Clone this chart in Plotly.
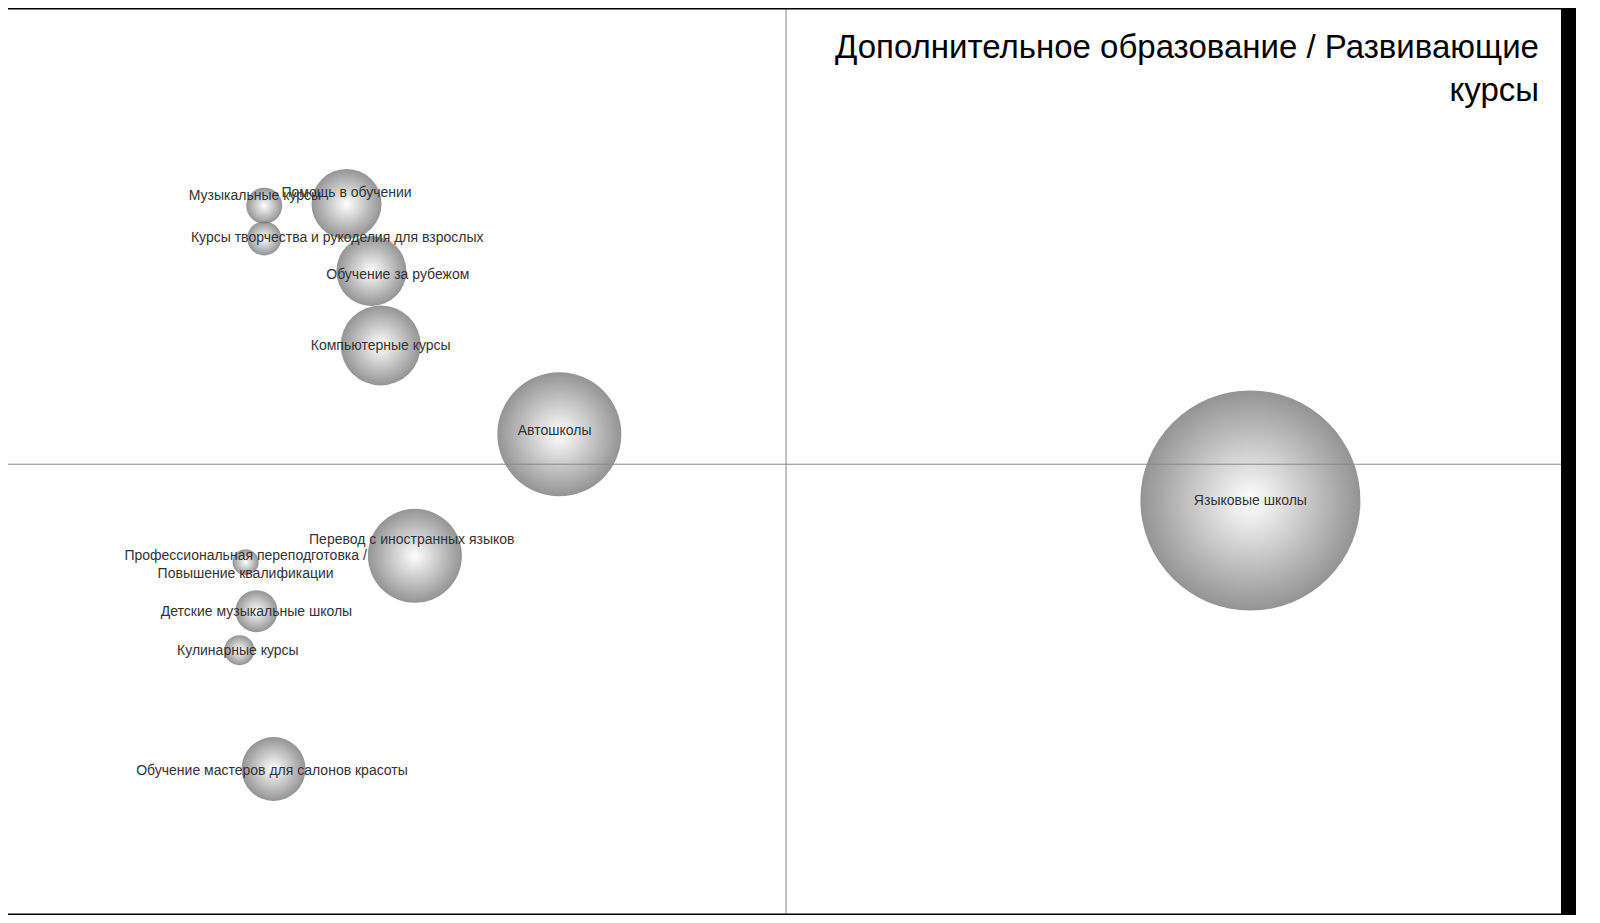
import plotly.graph_objects as go

names = ["Музыкальные курсы", "Помощь в обучении", "Курсы творчества и рукоделия для взрослых",
         "Обучение за рубежом", "Компьютерные курсы", "Автошколы", "Языковые школы",
         "Перевод с иностранных языков", "Профессиональная переподготовка /<br>Повышение квалификации",
         "Детские музыкальные школы", "Кулинарные курсы", "Обучение мастеров для салонов красоты"]
x_vals = [1.65, 2.18, 1.65, 2.34, 2.40, 3.55, 8.00, 2.62, 1.53, 1.60, 1.49, 1.71]
y_vals = [7.82, 7.84, 7.46, 7.10, 6.28, 5.30, 4.57, 3.96, 3.89, 3.35, 2.92, 1.61]
sizes = [36, 70, 34, 70, 80, 124, 220, 94, 26, 42, 30, 64]
label_x = [1.59, 2.18, 2.12, 2.51, 2.40, 3.52, 8.00, 2.60, 1.53, 1.60, 1.48, 1.70]
label_y = [7.92, 7.96, 7.46, 7.05, 6.27, 5.33, 4.56, 4.13, 3.85, 3.34, 2.90, 1.58]

fig = go.Figure()
fig.add_trace(go.Scatter(x=x_vals, y=y_vals, mode="markers", hoverinfo="skip",
    marker=dict(size=sizes, sizemode="diameter", color="#666666",
                gradient=dict(type="radial", color="#ffffff"), line=dict(width=0))))
fig.add_trace(go.Scatter(x=label_x, y=label_y, mode="text", text=names,
    textfont=dict(family="Liberation Sans Narrow, Liberation Sans, Arial", size=14, color="#333333")))

fig.update_layout(width=1584, height=907, margin=dict(l=0, r=0, t=0, b=0),
    paper_bgcolor="white", plot_bgcolor="white", showlegend=False,
    xaxis=dict(range=[0, 10], domain=[0, 1553/1584], visible=False),
    yaxis=dict(range=[0, 10], visible=False))
fig.add_shape(type="line", xref="x", yref="paper", x0=5.01, x1=5.01, y0=0, y1=1, line=dict(color="#888", width=1))
fig.add_shape(type="line", xref="paper", yref="paper", x0=0, x1=1553/1584, y0=0.497, y1=0.497, line=dict(color="#888", width=1))
fig.add_shape(type="rect", xref="paper", yref="paper", x0=1553/1584, x1=1568/1584, y0=0, y1=1, fillcolor="black", line=dict(width=0))
fig.add_shape(type="line", xref="paper", yref="paper", x0=0, x1=1568/1584, y0=1, y1=1, line=dict(color="black", width=3))
fig.add_shape(type="line", xref="paper", yref="paper", x0=0, x1=1568/1584, y0=0, y1=0, line=dict(color="black", width=3))
fig.add_annotation(xref="paper", yref="paper", x=1533/1584, y=1-18/907, xanchor="right", yanchor="top",
    text="Дополнительное образование / Развивающие<br>курсы", align="right", showarrow=False,
    font=dict(family="Liberation Sans Narrow, Liberation Sans, Arial", size=33, color="black"))
fig.write_html("out.html")
